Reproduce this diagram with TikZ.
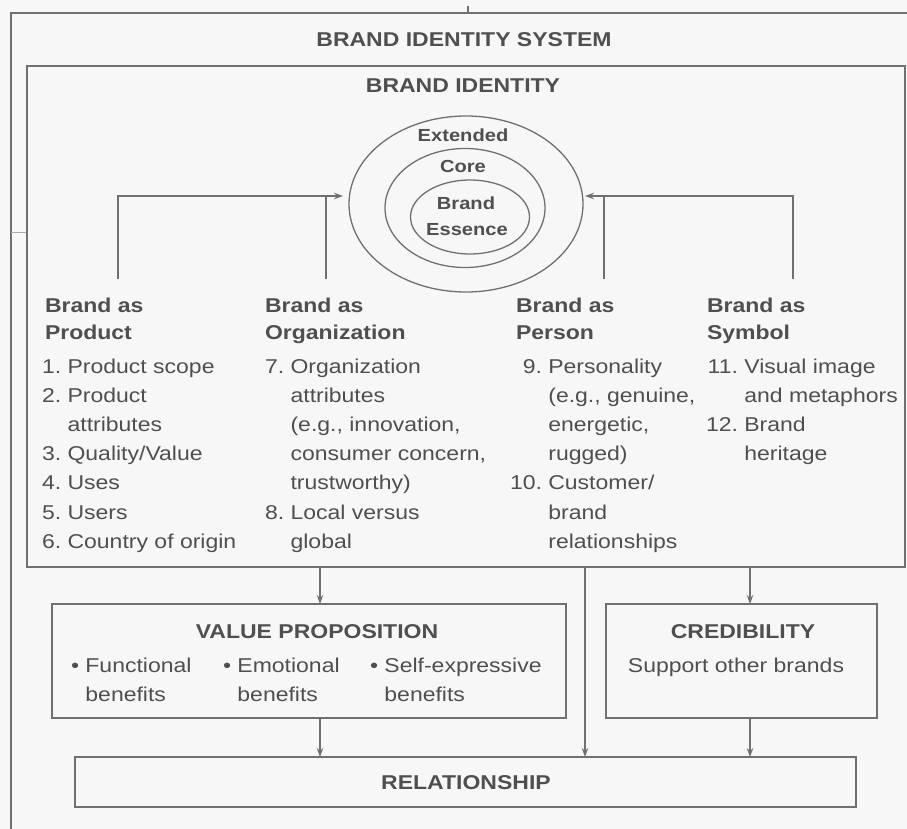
\documentclass[tikz,border=0pt]{standalone}
\usepackage{fontspec}
\setmainfont{Liberation Sans}[FakeStretch=1.15]
\usetikzlibrary{arrows.meta,shapes.geometric}
\definecolor{ink}{HTML}{4F4F4F}
\definecolor{rule}{HTML}{707070}
\definecolor{paper}{HTML}{F7F7F7}

\begin{document}
\begin{tikzpicture}[x=1pt,y=-1pt,
  every node/.style={inner sep=0pt,outer sep=0pt,text=ink},
  panel/.style={draw=rule,line width=1.4pt,rectangle},
  ring/.style={draw=rule,line width=1.3pt,ellipse},
  link/.style={draw=rule,line width=1.3pt},
  arr/.style={link,-{Stealth[length=9pt,width=6.5pt]}},
  body/.style={anchor=base west,font=\fontsize{20}{29.2}\selectfont},
  head/.style={anchor=base west,font=\fontsize{20}{27}\selectfont\bfseries},
  caption/.style={anchor=base,font=\fontsize{20}{24}\selectfont\bfseries},
  layer/.style={anchor=base,font=\fontsize{17.5}{24}\selectfont\bfseries},
]
\useasboundingbox (0,0) rectangle (907,829);
\fill[paper] (0,0) rectangle (907,829);

% outer system frame (runs off the page to the right and bottom)
\draw[link,line width=1.4pt] (11,840) -- (11,13) -- (920,13);
\draw[link,line width=1.6pt] (468,6) -- (468,13);
\draw[link,draw=rule!60,line width=1pt] (11,232) -- (27,232);
\node[caption] (sys) at (464,47) {BRAND IDENTITY SYSTEM};

% brand identity panel
\node[panel,minimum width=878pt,minimum height=501pt] (bi) at (466,316.5) {};
\node[caption] (bititle) at (463,93) {BRAND IDENTITY};

% identity layers
\node[ring,minimum width=234pt,minimum height=176pt] (ext) at (466,204) {};
\node[ring,minimum width=160pt,minimum height=119pt] (core) at (465,208) {};
\node[ring,minimum width=119pt,minimum height=74pt] (ess) at (470,217) {};
\node[layer] (extlbl) at (463,142) {Extended};
\node[layer] (corelbl) at (463,173) {Core};
\node[layer] (esslbl1) at (466,210) {Brand};
\node[layer] (esslbl2) at (467,235) {Essence};

% four perspectives
\node[head] (prodh) at (45,312) {\begin{tabular}[t]{@{}l@{}}Brand as\\Product\end{tabular}};
\node[body] (prodl) at (42,373) {\begin{tabular}[t]{@{}r@{\ }l@{}}
1.& Product scope\\
2.& Product\\
  & attributes\\
3.& Quality/Value\\
4.& Uses\\
5.& Users\\
6.& Country of origin\end{tabular}};

\node[head] (orgh) at (265,312) {\begin{tabular}[t]{@{}l@{}}Brand as\\Organization\end{tabular}};
\node[body] (orgl) at (265,373) {\begin{tabular}[t]{@{}r@{\ }l@{}}
7.& Organization\\
  & attributes\\
  & (e.g., innovation,\\
  & consumer concern,\\
  & trustworthy)\\
8.& Local versus\\
  & global\end{tabular}};

\node[head] (perh) at (516,312) {\begin{tabular}[t]{@{}l@{}}Brand as\\Person\end{tabular}};
\node[body] (perl) at (510,373) {\begin{tabular}[t]{@{}r@{\ }l@{}}
9.& Personality\\
  & (e.g., genuine,\\
  & energetic,\\
  & rugged)\\
10.& Customer/\\
  & brand\\
  & relationships\end{tabular}};

\node[head] (symh) at (707,312) {\begin{tabular}[t]{@{}l@{}}Brand as\\Symbol\end{tabular}};
\node[body] (syml) at (706,373) {\begin{tabular}[t]{@{}r@{\ }l@{}}
11.& Visual image\\
   & and metaphors\\
12.& Brand\\
   & heritage\end{tabular}};

% feeders into the layers
\coordinate (prodtop) at (118,279);
\coordinate (orgtop) at (326,279);
\coordinate (pertop) at (604,279);
\coordinate (symtop) at (793,279);
\coordinate (lin) at (343,196);
\coordinate (rin) at (585,196);
\draw[arr] (prodtop) |- (lin);
\draw[link] (orgtop) -- (orgtop |- lin);
\draw[arr] (symtop) |- (rin);
\draw[link] (pertop) -- (pertop |- rin);

% outcomes
\node[panel,minimum width=514pt,minimum height=114pt] (vp) at (309,661) {};
\node[caption] (vptitle) at (317,638) {VALUE PROPOSITION};
\node[body] (vpa) at (71,672) {\begin{tabular}[t]{@{}l@{\ }l@{}}\textbullet& Functional\\ & benefits\end{tabular}};
\node[body] (vpb) at (223,672) {\begin{tabular}[t]{@{}l@{\ }l@{}}\textbullet& Emotional\\ & benefits\end{tabular}};
\node[body] (vpc) at (370,672) {\begin{tabular}[t]{@{}l@{\ }l@{}}\textbullet& Self-expressive\\ & benefits\end{tabular}};

\node[panel,minimum width=271pt,minimum height=114pt] (cr) at (741.5,661) {};
\node[caption] (crtitle) at (743,638) {CREDIBILITY};
\node[anchor=base,font=\fontsize{20}{24}\selectfont] (crtext) at (736,672) {Support other brands};

\node[panel,minimum width=781pt,minimum height=50pt] (rel) at (465.5,782) {};
\node[caption] (reltitle) at (466,789) {RELATIONSHIP};

% flows
\coordinate (vpx) at (320,0);
\coordinate (midx) at (585,0);
\coordinate (crx) at (750,0);
\draw[arr] (bi.south -| vpx) -- (vp.north -| vpx);
\draw[arr] (bi.south -| crx) -- (cr.north -| crx);
\draw[arr] (bi.south -| midx) -- (rel.north -| midx);
\draw[arr] (vp.south -| vpx) -- (rel.north -| vpx);
\draw[arr] (cr.south -| crx) -- (rel.north -| crx);
\end{tikzpicture}
\end{document}
